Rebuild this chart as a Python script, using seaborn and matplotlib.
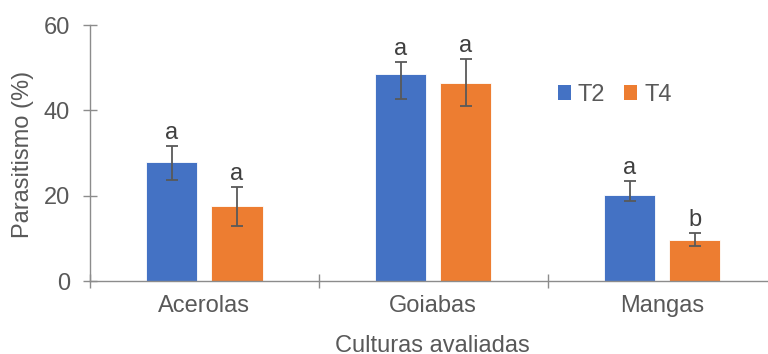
import matplotlib
matplotlib.use("Agg")
import matplotlib.pyplot as plt
import seaborn as sns
import pandas as pd
from matplotlib.patches import Patch

# ---- data ----
categories = ["Acerolas", "Goiabas", "Mangas"]
treatments = ["T2", "T4"]
t2_values = [28.0, 48.4, 20.1]
t4_values = [17.5, 46.5, 9.7]
t2_err_low = [4.3, 5.7, 1.4]
t2_err_high = [3.7, 3.0, 3.3]
t4_err_low = [4.5, 5.6, 1.4]
t4_err_high = [4.5, 5.6, 1.5]
t2_letters = ["a", "a", "a"]
t4_letters = ["a", "a", "b"]
y_ticks = [0, 20, 40, 60]

colors = {"T2": "#4472C4", "T4": "#ED7D31"}
text_color = "#595959"
axis_color = "#8C8C8C"
FS = 17

df = pd.DataFrame({
    "Cultura": categories * 2,
    "Tratamento": ["T2"] * 3 + ["T4"] * 3,
    "Parasitismo": t2_values + t4_values,
})

sns.set_theme(style="white")
plt.rcParams["font.family"] = ["Liberation Sans", "DejaVu Sans"]

fig = plt.figure(figsize=(7.68, 3.54), dpi=100)
ax = fig.add_axes([90 / 768, 73 / 354, 686.6 / 768, 256 / 354])

sns.barplot(data=df, x="Cultura", y="Parasitismo", hue="Tratamento",
            order=categories, hue_order=treatments, palette=colors,
            width=0.569, gap=0.215, errorbar=None, ax=ax,
            edgecolor="white", linewidth=0.6, saturation=1, legend=False)

errs = {"T2": (t2_err_low, t2_err_high), "T4": (t4_err_low, t4_err_high)}
letters = {"T2": t2_letters, "T4": t4_letters}
vals = {"T2": t2_values, "T4": t4_values}
for tr, cont in zip(treatments, ax.containers):
    lo, hi = errs[tr]
    for i, bar in enumerate(cont):
        xc = bar.get_x() + bar.get_width() / 2
        v = vals[tr][i]
        ax.errorbar(xc, v, yerr=[[lo[i]], [hi[i]]], fmt="none",
                    ecolor="#595959", elinewidth=1.3, capsize=4.2,
                    capthick=1.3, zorder=5)
        ax.annotate(letters[tr][i], xy=(xc, v + hi[i]), xytext=(0, 5),
                    textcoords="offset points", ha="center", va="baseline",
                    fontsize=FS, color="#404040")

ax.set_xlim(-0.5, 2.5)
ax.set_ylim(0, 60)
ax.set_yticks(y_ticks)
ax.set_xticks([-0.5, 0.5, 1.5, 2.5], minor=True)
ax.tick_params(axis="x", which="major", length=0, pad=10,
               labelsize=FS, labelcolor=text_color)
ax.tick_params(axis="x", which="minor", length=9.5, width=1.0,
               direction="inout", color=axis_color, bottom=True)
ax.tick_params(axis="y", which="major", length=10.5, width=1.0,
               direction="inout", color=axis_color, pad=9,
               labelsize=FS, labelcolor=text_color, left=True)

for s in ["top", "right"]:
    ax.spines[s].set_visible(False)
for s in ["left", "bottom"]:
    ax.spines[s].set_color(axis_color)
    ax.spines[s].set_linewidth(1.0)

ax.set_ylabel("Parasitismo (%)", fontsize=FS, color=text_color)
ax.set_xlabel("Culturas avaliadas", fontsize=FS, color=text_color)
ax.yaxis.set_label_coords(-0.081, 0.494)
ax.xaxis.set_label_coords(0.498, -0.212)

handles = [Patch(facecolor=colors[t], edgecolor="none") for t in treatments]
ax.legend(handles, treatments, ncol=2, frameon=False, fontsize=FS,
          labelcolor=text_color, loc="center", bbox_to_anchor=(0.764, 0.727),
          handlelength=0.55, handleheight=0.55, handletextpad=0.3,
          columnspacing=0.8)

fig.savefig("out.png", dpi=100)
